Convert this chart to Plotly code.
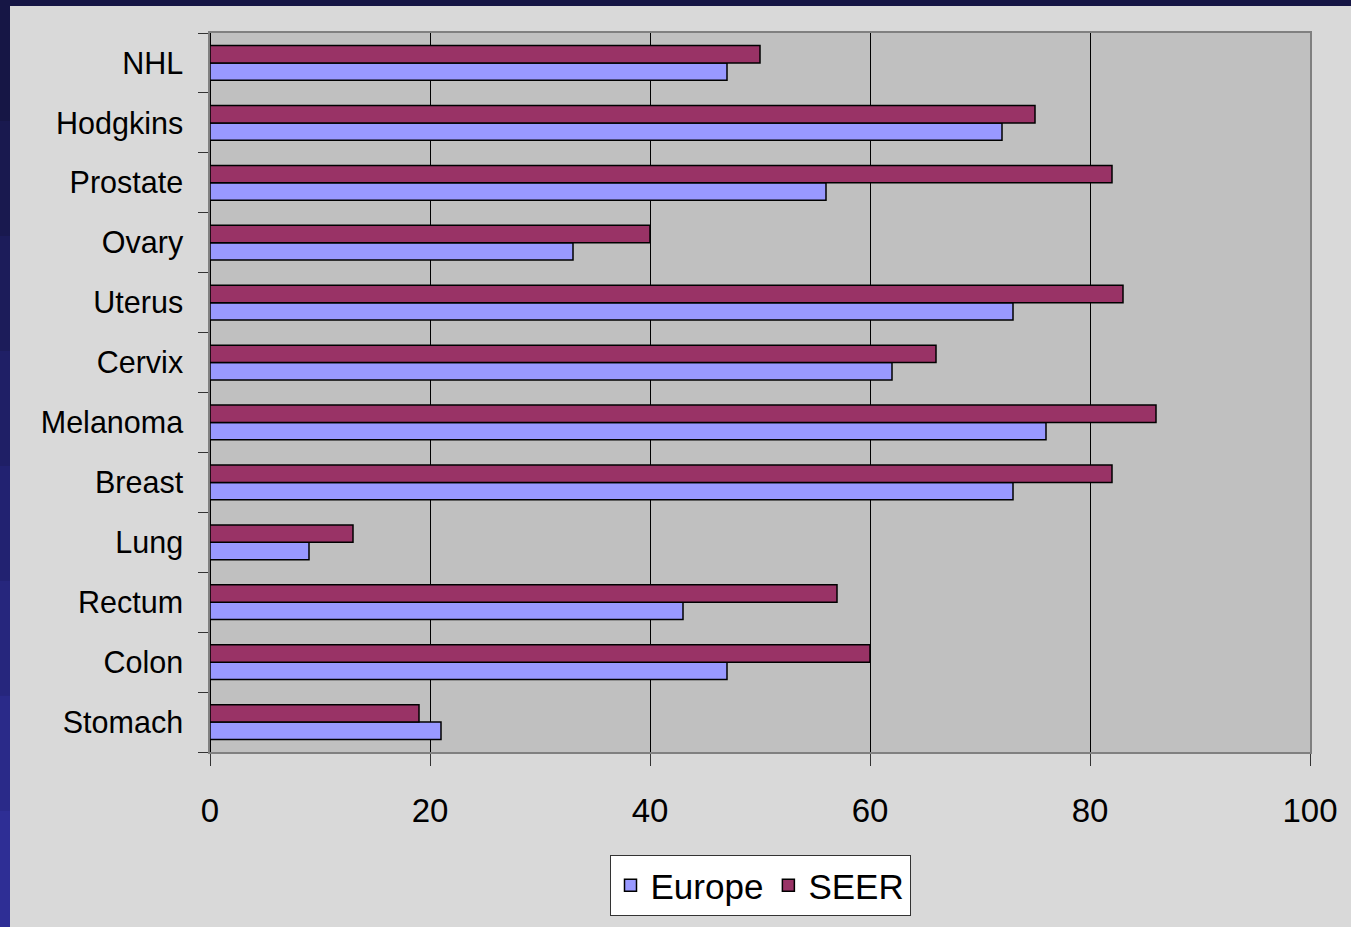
import plotly.graph_objects as go

categories = ["NHL", "Hodgkins", "Prostate", "Ovary", "Uterus", "Cervix",
              "Melanoma", "Breast", "Lung", "Rectum", "Colon", "Stomach"]
europe = [47, 72, 56, 33, 73, 62, 76, 73, 9, 43, 47, 21]
seer = [50, 75, 82, 40, 83, 66, 86, 82, 13, 57, 60, 19]
x_ticks = [0, 20, 40, 60, 80, 100]

FONT = "Liberation Sans, Arial, sans-serif"

fig = go.Figure()
fig.add_trace(go.Bar(y=categories, x=europe, name="Europe", orientation="h",
                     marker=dict(color="#9999FF", line=dict(color="#000000", width=1.5))))
fig.add_trace(go.Bar(y=categories, x=seer, name="SEER", orientation="h",
                     marker=dict(color="#993366", line=dict(color="#000000", width=1.5))))

# slide frame (dark blue strips on top and left)
shapes = [dict(type="rect", xref="paper", yref="paper", x0=-0.2, x1=1.1,
               y0=1 + 27 / 720, y1=1.1, fillcolor="#161645", line=dict(width=0), layer="below")]
n = 8
left_cols = ["#161645", "#19194f", "#1c1c5a", "#1f1f66", "#222271", "#26267d", "#2a2a89", "#2e2e95"]
for i in range(n):
    y_top = 1 + 27 / 720 - i * (927 - 6) / 720 / n
    y_bot = 1 + 27 / 720 - (i + 1) * (927 - 6) / 720 / n
    shapes.append(dict(type="rect", xref="paper", yref="paper", x0=-0.2, x1=-200 / 1100,
                       y0=y_bot - 0.002, y1=y_top, fillcolor=left_cols[i], line=dict(width=0),
                       layer="below"))

fig.update_layout(
    width=1351, height=927,
    margin=dict(l=210, r=41, t=33, b=174),
    paper_bgcolor="#D9D9D9",
    plot_bgcolor="#C0C0C0",
    barmode="group",
    bargap=0.42,
    bargroupgap=0,
    font=dict(family=FONT, color="#000000"),
    shapes=shapes,
    showlegend=True,
    legend=dict(orientation="h", x=0.5, xanchor="center", y=-0.1417, yanchor="top",
                bgcolor="#FFFFFF", bordercolor="#333333", borderwidth=1,
                font=dict(size=35, family=FONT), traceorder="normal"),
    xaxis=dict(range=[0, 100], tickvals=x_ticks, ticktext=[str(v) for v in x_ticks],
               showgrid=True, gridcolor="#000000", gridwidth=1,
               zeroline=True, zerolinecolor="#000000", zerolinewidth=1,
               showline=True, linecolor="#808080", linewidth=1.5, mirror=True,
               ticks="outside", ticklen=12, tickcolor="#333333",
               tickfont=dict(size=33, family=FONT), ticklabelstandoff=17,
               fixedrange=True),
    yaxis=dict(categoryorder="array", categoryarray=categories[::-1],
               showgrid=False, showline=True, linecolor="#808080", linewidth=1.5, mirror=True,
               ticks="outside", ticklen=10, tickcolor="#333333", tickson="boundaries",
               tickfont=dict(size=30.5, family=FONT), ticklabelstandoff=19,
               fixedrange=True),
)

fig.write_html("out.html")
